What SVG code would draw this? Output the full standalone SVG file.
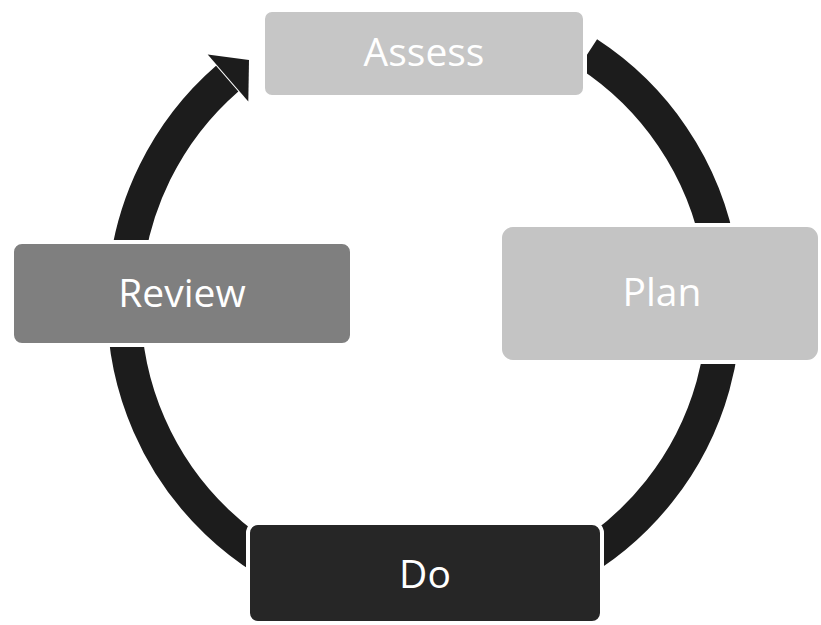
<svg xmlns="http://www.w3.org/2000/svg" width="821" height="625" viewBox="0 0 821 625">
<style>
  .box { stroke: #ffffff; stroke-width: 4; }
  .lbl { font-family: "Open Sans", "Liberation Sans", sans-serif; font-size: 39px; fill: #ffffff; text-anchor: middle; }
  .ring { fill: none; stroke: #1c1c1c; stroke-width: 34; stroke-linecap: butt; }
  .head { fill: #1c1c1c; }
</style>
<rect width="821" height="625" fill="#ffffff"/>
<g id="connectors">
  <path class="ring" d="M 587.8 53.6 A 300 300 0 1 1 227.2 78.6"/>
  <polygon class="head" points="207.7,54.6 249,60 248.3,101.4"/>
</g>
<g id="assess">
  <rect class="box" x="263" y="10" width="322" height="87" rx="9" fill="#c6c6c6"/>
  <text class="lbl" x="424" y="66">Assess</text>
</g>
<g id="plan">
  <rect class="box" x="500" y="225" width="320" height="137" rx="13" fill="#c4c4c4"/>
  <text class="lbl" x="662" y="306">Plan</text>
</g>
<g id="review">
  <rect class="box" x="12" y="242" width="340" height="103" rx="10" fill="#7f7f7f"/>
  <text class="lbl" x="182" y="307">Review</text>
</g>
<g id="do">
  <rect class="box" x="248" y="523" width="354" height="100" rx="10" fill="#262626"/>
  <text class="lbl" x="425" y="588">Do</text>
</g>
</svg>
